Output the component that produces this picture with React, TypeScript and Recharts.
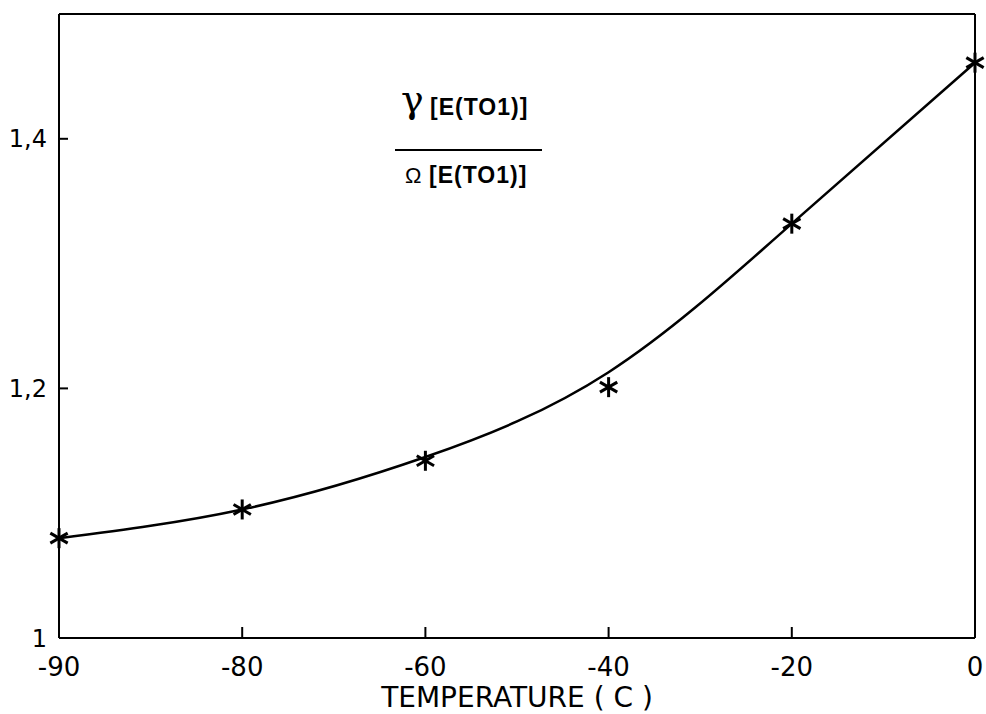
import {
  ComposedChart,
  Line,
  XAxis,
  YAxis,
  ReferenceLine,
  Customized,
} from "recharts";

// ─── Data ────────────────────────────────────────────────────────────────────

const TEMPS = ["-90", "-80", "-60", "-40", "-20", "0"];
const MEASURED = [1.08, 1.103, 1.142, 1.201, 1.332, 1.461];
const FITTED = [1.08, 1.103, 1.145, 1.213, 1.332, 1.461];
const Y_TICKS = [1, 1.2, 1.4];

const data = TEMPS.map((t, i) => ({ t, measured: MEASURED[i], fitted: FITTED[i] }));

// ─── Style ───────────────────────────────────────────────────────────────────

const INK = "#000";
const SANS = "DejaVu Sans, sans-serif";
const X_MARGIN = 20;
const Y_MARGIN = 12;

function XTick({ x, y, payload }: any) {
  const axisY = y - X_MARGIN;
  return (
    <g>
      <line x1={x} y1={axisY} x2={x} y2={axisY - 11} stroke={INK} strokeWidth={2} />
      <text x={x} y={y} dy="0.71em" textAnchor="middle" fontSize={26} fontFamily={SANS} fill={INK}>
        {payload.value}
      </text>
    </g>
  );
}

function YTick({ x, y, payload }: any) {
  const axisX = x + Y_MARGIN;
  return (
    <g>
      {payload.value > 1 && (
        <line x1={axisX} y1={y} x2={axisX + 9} y2={y} stroke={INK} strokeWidth={2} />
      )}
      <text x={x} y={y} dy="0.355em" textAnchor="end" fontSize={24} fontFamily={SANS} fill={INK}>
        {String(payload.value).replace(".", ",")}
      </text>
    </g>
  );
}

function Star({ cx, cy }: any) {
  if (cx == null || cy == null) return <g />;
  const r = 10;
  const dx = r * Math.cos(Math.PI / 6);
  const dy = r * Math.sin(Math.PI / 6);
  return (
    <g stroke={INK} strokeWidth={3}>
      <line x1={cx} y1={cy - r} x2={cx} y2={cy + r} />
      <line x1={cx - dx} y1={cy - dy} x2={cx + dx} y2={cy + dy} />
      <line x1={cx - dx} y1={cy + dy} x2={cx + dx} y2={cy - dy} />
    </g>
  );
}

function RatioTitle() {
  const bold = { fontFamily: "Liberation Sans, Arial, sans-serif", fontWeight: 700, fontSize: 23, letterSpacing: 1 };
  return (
    <g fill={INK}>
      <text x={401} y={112} fontSize={38} fontFamily="DejaVu Serif, serif">
        γ
      </text>
      <text x={430} y={115} {...bold}>
        [E(TO1)]
      </text>
      <line x1={395} y1={150} x2={542} y2={150} stroke={INK} strokeWidth={2} />
      <text x={405} y={183} fontSize={22} fontFamily="Liberation Sans, Arial, sans-serif">
        Ω
      </text>
      <text x={429} y={183} {...bold}>
        [E(TO1)]
      </text>
    </g>
  );
}

export default function App() {
  return (
    <div style={{ position: "absolute", left: 0, top: 0, background: "#fff" }}>
      <ComposedChart
        width={986}
        height={714}
        data={data}
        margin={{ top: 14, right: 11, bottom: 0, left: 0 }}
      >
        <XAxis
          dataKey="t"
          type="category"
          scale="point"
          padding={{ left: 0, right: 0 }}
          height={76}
          axisLine={{ stroke: INK, strokeWidth: 2 }}
          tickLine={false}
          tickSize={0}
          tickMargin={X_MARGIN}
          tick={<XTick />}
          interval={0}
          label={{
            value: "TEMPERATURE ( C )",
            position: "insideBottom",
            offset: 7,
            fontSize: 28,
            fontFamily: SANS,
            fill: INK,
          }}
        />
        <YAxis
          type="number"
          domain={[1, 1.5]}
          ticks={Y_TICKS}
          width={59}
          axisLine={{ stroke: INK, strokeWidth: 2 }}
          tickLine={false}
          tickSize={0}
          tickMargin={Y_MARGIN}
          tick={<YTick />}
        />
        <ReferenceLine y={1.5} stroke={INK} strokeWidth={2} />
        <ReferenceLine x="0" stroke={INK} strokeWidth={2} />
        <Line
          dataKey="fitted"
          type="natural"
          stroke={INK}
          strokeWidth={2.5}
          dot={false}
          activeDot={false}
          isAnimationActive={false}
        />
        <Line
          dataKey="measured"
          stroke="none"
          dot={<Star />}
          activeDot={false}
          isAnimationActive={false}
        />
        <Customized component={RatioTitle} />
      </ComposedChart>
    </div>
  );
}
